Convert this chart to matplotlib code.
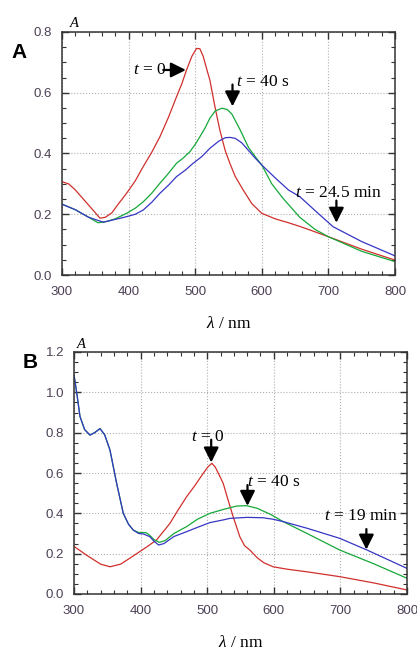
import matplotlib
matplotlib.use("Agg")
import matplotlib.pyplot as plt
from matplotlib.ticker import MultipleLocator, FormatStrFormatter

plt.rcParams['font.family'] = ['Liberation Sans', 'DejaVu Sans']
plt.rcParams['mathtext.fontset'] = 'custom'
plt.rcParams['mathtext.rm'] = 'Liberation Serif'
plt.rcParams['mathtext.it'] = 'Liberation Serif:italic'

# ---- Panel A data ----
a_red_x = [300,310,320,330,340,350,357,365,375,385,397,410,422,435,447,460,472,480,487,495,502,507,512,517,522,530,537,545,552,560,572,585,600,620,640,657,680,700,750,800]
a_red_y = [0.307,0.30,0.28,0.255,0.23,0.205,0.187,0.19,0.205,0.235,0.269,0.31,0.357,0.405,0.455,0.52,0.587,0.63,0.675,0.72,0.746,0.745,0.72,0.68,0.642,0.55,0.477,0.41,0.368,0.325,0.28,0.235,0.203,0.185,0.172,0.16,0.142,0.126,0.085,0.049]
a_green_x = [300,320,340,354,365,380,397,410,422,435,447,460,472,482,492,500,507,515,522,530,540,548,555,567,580,590,600,615,632,657,680,700,750,800]
a_green_y = [0.233,0.215,0.19,0.172,0.175,0.185,0.203,0.22,0.241,0.27,0.302,0.335,0.368,0.385,0.406,0.43,0.455,0.485,0.516,0.54,0.549,0.545,0.53,0.48,0.42,0.39,0.362,0.30,0.252,0.19,0.15,0.126,0.078,0.044]
a_blue_x = [300,320,340,362,380,397,410,422,435,447,460,472,485,497,510,522,535,545,552,560,570,580,590,600,620,640,657,680,707,750,800]
a_blue_y = [0.233,0.215,0.19,0.174,0.183,0.192,0.2,0.214,0.24,0.269,0.296,0.324,0.345,0.368,0.39,0.417,0.44,0.452,0.453,0.45,0.435,0.41,0.385,0.362,0.32,0.28,0.258,0.212,0.159,0.11,0.063]

# ---- Panel B data ----
b_red_x = [300,320,340,354,370,385,394,410,424,444,456,469,482,494,501,507,512,518,524,531,539,549,556,564,575,585,599,620,650,699,750,800]
b_red_y = [0.236,0.19,0.148,0.135,0.148,0.18,0.20,0.235,0.268,0.35,0.415,0.482,0.54,0.598,0.63,0.648,0.63,0.59,0.549,0.47,0.383,0.284,0.24,0.218,0.18,0.155,0.135,0.123,0.11,0.086,0.055,0.02]
b_green_x = [300,304,309,316,324,331,339,346,354,364,374,382,389,397,404,409,414,420,428,437,450,469,485,504,525,544,559,575,595,614,650,699,750,800]
b_green_y = [1.086,1.0,0.88,0.815,0.788,0.80,0.82,0.79,0.714,0.549,0.40,0.345,0.317,0.305,0.305,0.303,0.29,0.27,0.256,0.265,0.30,0.334,0.37,0.40,0.42,0.436,0.438,0.425,0.395,0.359,0.30,0.218,0.15,0.078]
b_blue_x = [300,304,309,316,324,331,339,346,354,364,374,382,389,397,404,414,420,427,435,450,469,485,504,525,534,560,584,600,614,650,699,740,800]
b_blue_y = [1.086,1.0,0.88,0.815,0.788,0.80,0.82,0.79,0.714,0.549,0.40,0.345,0.317,0.30,0.298,0.284,0.262,0.243,0.25,0.285,0.309,0.33,0.354,0.368,0.375,0.38,0.378,0.37,0.359,0.326,0.276,0.218,0.127]

RED = '#d0302c'
GREEN = '#15a838'
BLUE = '#3636c4'
TICKC = '#4d4055'

fig = plt.figure(figsize=(4.17, 6.52), dpi=100)
axA = fig.add_axes([62/417, (652-275)/652, 333/417, 243/652])
axB = fig.add_axes([74/417, (652-594)/652, 333/417, 242/652])

def style(ax, ymax):
    ax.set_xlim(300, 800)
    ax.set_ylim(0, ymax)
    ax.xaxis.set_major_locator(MultipleLocator(100))
    ax.xaxis.set_minor_locator(MultipleLocator(20))
    ax.yaxis.set_major_locator(MultipleLocator(0.2))
    ax.yaxis.set_minor_locator(MultipleLocator(0.05))
    ax.tick_params(which='both', direction='in', top=True, right=True,
                   colors='#333333', labelcolor=TICKC, labelsize=9.5)
    ax.tick_params(which='major', length=5, width=1)
    ax.tick_params(which='minor', length=3, width=0.8)
    ax.tick_params(axis='x', which='major', pad=8)
    ax.tick_params(axis='y', which='major', pad=7)
    ax.yaxis.set_major_formatter(FormatStrFormatter('%.1f'))
    ax.grid(True, which='major', linestyle=':', color='#b0b0b0', linewidth=0.8)
    for s in ax.spines.values():
        s.set_color('#333333')
        s.set_linewidth(1.1)
    ax.set_xlabel(r'$\lambda$ / nm', fontsize=12.5, family='Liberation Serif', labelpad=13)

style(axA, 0.8)
style(axB, 1.2)

lw = 0.9
axA.plot(a_red_x, a_red_y, color=RED, lw=lw)
axA.plot(a_green_x, a_green_y, color=GREEN, lw=lw)
axA.plot(a_blue_x, a_blue_y, color=BLUE, lw=lw)
axB.plot(b_red_x, b_red_y, color=RED, lw=lw)
axB.plot(b_green_x, b_green_y, color=GREEN, lw=lw)
axB.plot(b_blue_x, b_blue_y, color=BLUE, lw=lw)

ap = dict(arrowstyle='-|>,head_length=0.9,head_width=0.45', color='black', lw=1.6, shrinkA=0, shrinkB=0)
tf = dict(fontsize=12.5, family='Liberation Serif')

# Panel A annotations
axA.text(406, 0.675, r'$t$ = 0', ha='left', va='center', **tf)
axA.annotate('', xy=(486, 0.675), xytext=(452, 0.675), arrowprops=ap)
axA.text(561, 0.636, r'$t$ = 40 s', ha='left', va='center', **tf)
axA.annotate('', xy=(556, 0.555), xytext=(556, 0.627), arrowprops=ap)
axA.text(650, 0.269, r'$t$ = 24.5 min', ha='left', va='center', **tf)
axA.annotate('', xy=(712, 0.172), xytext=(712, 0.245), arrowprops=ap)

# Panel B annotations
axB.text(475, 0.78, r'$t$ = 0', ha='left', va='center', **tf)
axB.annotate('', xy=(506, 0.652), xytext=(506, 0.765), arrowprops=ap)
axB.text(560, 0.554, r'$t$ = 40 s', ha='left', va='center', **tf)
axB.annotate('', xy=(560.5, 0.437), xytext=(560.5, 0.54), arrowprops=ap)
axB.text(675, 0.389, r'$t$ = 19 min', ha='left', va='center', **tf)
axB.annotate('', xy=(739, 0.22), xytext=(739, 0.322), arrowprops=ap)

# axis "A" labels and panel letters
fig.text(75/417, 1-23/652, r'$A$', ha='center', va='center', fontsize=10.5, family='Liberation Serif')
fig.text(82/417, 1-344/652, r'$A$', ha='center', va='center', fontsize=10.5, family='Liberation Serif')
fig.text(19/417, 1-52/652, 'A', ha='center', va='center', fontsize=15, fontweight='bold', family='Liberation Sans')
fig.text(30/417, 1-362/652, 'B', ha='center', va='center', fontsize=15, fontweight='bold', family='Liberation Sans')

fig.savefig('out.png', dpi=100)
